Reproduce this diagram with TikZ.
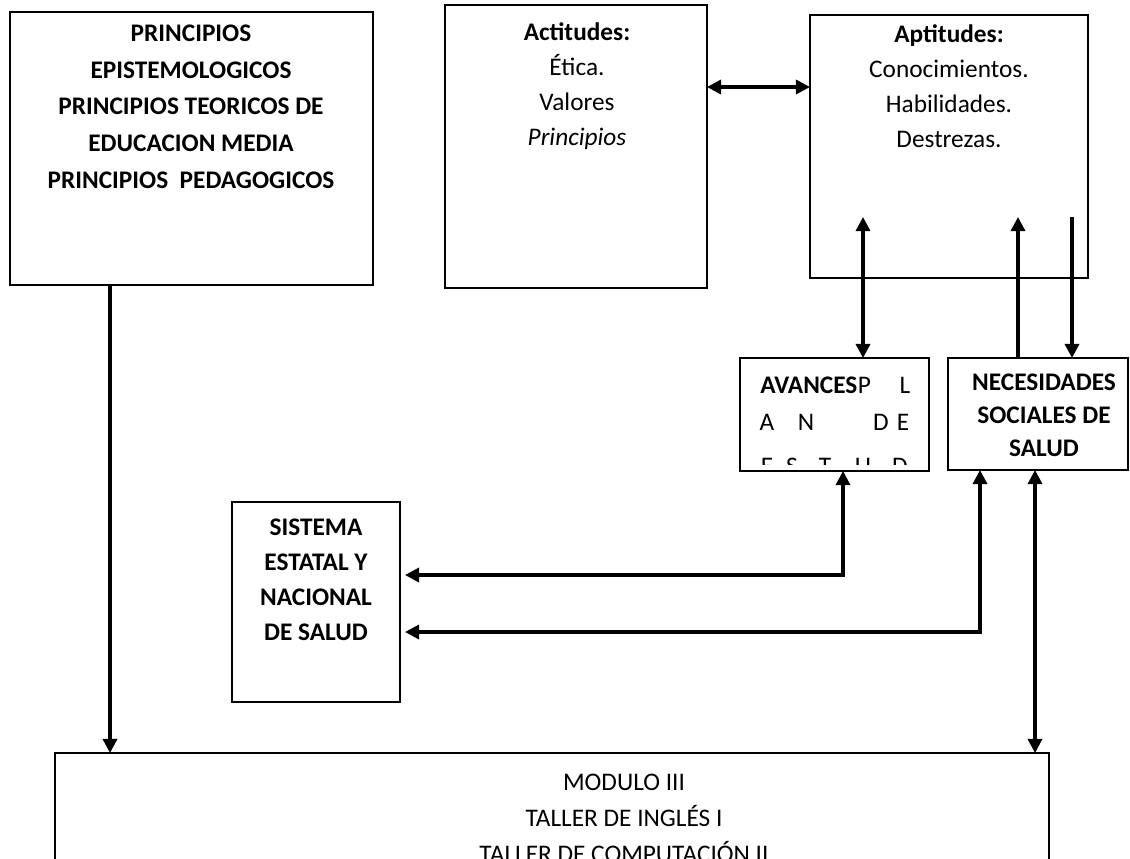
\documentclass[tikz,border=0pt]{standalone}
\usepackage{fontspec}
\setmainfont{Carlito}
\usetikzlibrary{arrows.meta,calc,fit,positioning}

\begin{document}
\begin{tikzpicture}[x=0.025cm, y=-0.025cm,
  box/.style={draw, line width=1.3pt, inner sep=0pt, outer sep=0pt},
  txt/.style={align=center, inner sep=0pt, font=\fontsize{18}{24.9}\selectfont},
  txtb/.style={txt, font=\bfseries\fontsize{18}{24.9}\selectfont},
  arr/.style={line width=2.3pt, -{Triangle[length=10pt,width=10pt]}},
  dbl/.style={line width=2.3pt, {Triangle[length=10pt,width=10pt]}-{Triangle[length=10pt,width=10pt]}}]
\clip (0,0) rectangle (1130,858);
% boxes
\node[box, fit={(10,12) (373,285)}] (principios) {};
\node[box, fit={(445,5) (707,288)}] (actitudes) {};
\node[box, fit={(810,15) (1088,278)}] (aptitudes) {};
\node[box, fit={(740,358) (929,471)}] (avances) {};
\node[box, fit={(948,358) (1128,470)}] (necesidades) {};
\node[box, fit={(232,502) (400,702)}] (sistema) {};
\node[box, fit={(55,753) (1049,900)}] (modulo) {};
% texts
\node[txtb, font=\bfseries\fontsize{18}{26.1}\selectfont] (tprincipios) at (191,106.5)
  {PRINCIPIOS\\EPISTEMOLOGICOS\\PRINCIPIOS TEORICOS DE\\EDUCACION MEDIA\\PRINCIPIOS\ \ PEDAGOGICOS};
\node[txt] (tactitudes) at (577,86) {\textbf{Actitudes:}\\Ética.\\Valores\\\textit{Principios}};
\node[txt] (taptitudes) at (949,86) {\textbf{Aptitudes:}\\Conocimientos.\\Habilidades.\\Destrezas.};
\node[txtb, font=\bfseries\fontsize{18}{23.5}\selectfont] (tnecesidades) at (1044,415)
  {NECESIDADES\\SOCIALES DE\\SALUD};
\node[txtb] (tsistema) at (316,579.5) {SISTEMA\\ESTATAL Y\\NACIONAL\\DE SALUD};
\node[txt, font=\fontsize{18}{25.6}\selectfont] (tmodulo) at (624,818)
  {MODULO III\\TALLER DE INGLÉS I\\TALLER DE COMPUTACIÓN II};
% avances, cut off by its box
\begin{scope}
\clip (742,360) rectangle (927,464);
\node[txtb, anchor=base west] (av1) at (760,393) {AVANCES};
\node[txt, anchor=base west] (av2) at (av1.base east) {P};
\node[txt, anchor=base] (av3) at (905,393) {L};
\foreach \c/\x in {A/767,N/806,D/881,E/903}
  \node[txt, anchor=base] (avb\x) at (\x,430) {\c};
\foreach \c/\x in {E/767,S/792,T/825,U/863,D/900}
  \node[txt, anchor=base] (avc\x) at (\x,474) {\c};
\end{scope}
% connectors
\coordinate (s1) at ($(principios.south west)+(100,0)$);
\draw[arr] (s1) -- (s1 |- modulo.north);
\coordinate (s2) at ($(actitudes.north east)+(0,82)$);
\draw[dbl] (s2) -- (s2 -| aptitudes.west);
\coordinate (s3) at ($(avances.north west)+(123,0)$);
\draw[dbl] (s3) -- ($(s3 |- aptitudes.south)+(0,-61)$);
\coordinate (s4) at ($(necesidades.north west)+(70,0)$);
\draw[arr] (s4) -- ($(s4 |- aptitudes.south)+(0,-61)$);
\coordinate (s5) at ($(necesidades.north west)+(124,0)$);
\draw[arr] ($(s5 |- aptitudes.south)+(0,-61)$) -- (s5);
\coordinate (s6) at ($(avances.south west)+(103,0)$);
\draw[dbl] (s6) |- ($(sistema.north east)+(5,73)$);
\coordinate (s7) at ($(necesidades.south west)+(32,0)$);
\draw[dbl] (s7) |- ($(sistema.north east)+(5,130)$);
\coordinate (s8) at ($(necesidades.south west)+(87,0)$);
\draw[dbl] (s8) -- (s8 |- modulo.north);
\end{tikzpicture}
\end{document}
